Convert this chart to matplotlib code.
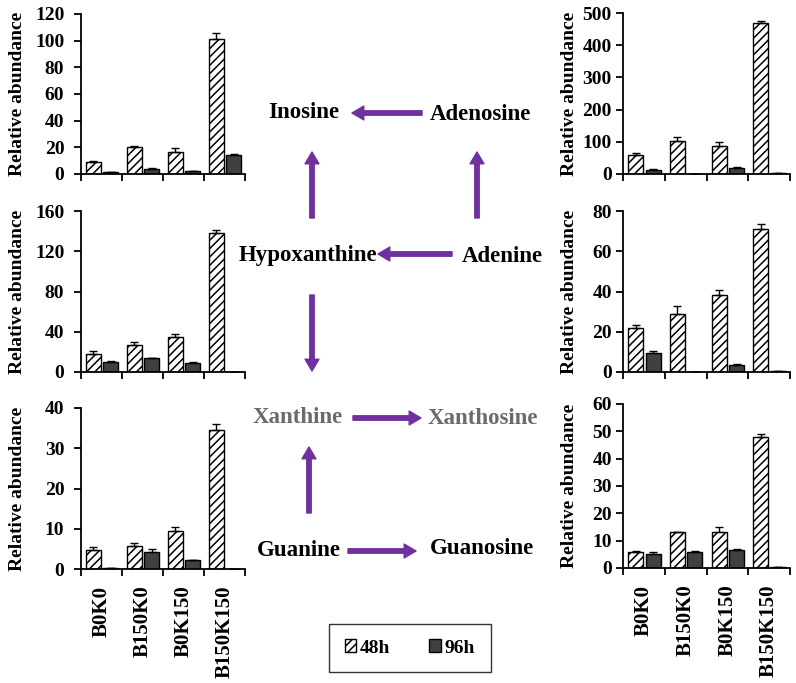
import matplotlib
matplotlib.use("Agg")
import matplotlib.pyplot as plt
from matplotlib.patches import FancyArrowPatch, Patch
import numpy as np

plt.rcParams['font.family'] = ['Liberation Serif', 'DejaVu Serif']
plt.rcParams['font.weight'] = 'bold'
plt.rcParams['axes.labelweight'] = 'bold'
plt.rcParams['hatch.linewidth'] = 1.1

groups = ['B0K0', 'B150K0', 'B0K150', 'B150K150']
series = ['48h', '96h']

# Inosine (top left)
ino_48 = [9, 20, 16.5, 101]
ino_48_err = [1, 1, 3, 4.5]
ino_96 = [1.5, 3.8, 2.2, 14.5]
ino_96_err = [0.3, 0.8, 0.3, 0.8]

# Adenosine (top right)
ado_48 = [58, 104, 88, 468]
ado_48_err = [8, 12, 12, 6]
ado_96 = [12, 0, 20, 2]
ado_96_err = [3, 0, 3, 0.5]

# Hypoxanthine (middle left)
hyp_48 = [18, 27, 35, 138]
hyp_48_err = [3, 3, 3, 3]
hyp_96 = [10, 13.5, 9, 0]
hyp_96_err = [0.5, 0.5, 1, 0]

# Adenine (middle right)
ade_48 = [22, 29, 38.5, 71]
ade_48_err = [1.5, 4, 2, 2.5]
ade_96 = [9.5, 0, 3.5, 0.3]
ade_96_err = [1, 0, 0.5, 0]

# Xanthine (bottom left)
xan_48 = [4.7, 5.7, 9.5, 34.5]
xan_48_err = [0.8, 0.7, 1.0, 1.5]
xan_96 = [0.3, 4.2, 2.2, 0]
xan_96_err = [0, 0.7, 0, 0]

# Guanine (bottom right)
gua_48 = [5.8, 13.2, 13.3, 48]
gua_48_err = [0.3, 0, 1.8, 1.2]
gua_96 = [5.3, 5.8, 6.6, 0.3]
gua_96_err = [0.7, 0.3, 0.5, 0]

W, H = 796, 683
fig = plt.figure(figsize=(W / 100, H / 100), dpi=100)


def rect(x0, x1, ytop, ybot):
    return [x0 / W, 1 - ybot / H, (x1 - x0) / W, (ybot - ytop) / H]


def panel(r, v48, e48, v96, e96, ymax, step, labels, pad, lab_x):
    ax = fig.add_axes(r)
    x = np.arange(len(groups))
    ax.bar(x - 0.2, v48, 0.36, color='white', edgecolor='black', hatch='////', lw=1)
    ax.bar(x + 0.22, v96, 0.36, color='#404040', edgecolor='black', lw=1)
    ek = dict(fmt='none', ecolor='black', elinewidth=1, capsize=3, capthick=1)
    ax.errorbar(x - 0.2, v48, yerr=[np.zeros(4), e48], **ek)
    ax.errorbar(x + 0.22, v96, yerr=[np.zeros(4), e96], **ek)
    ax.set_xlim(-0.5, 3.5)
    ax.set_ylim(0, ymax)
    ax.set_yticks(np.arange(0, ymax + 1, step))
    ax.set_xticks([-0.5, 0.5, 1.5, 2.5, 3.5])
    ax.set_xticklabels([])
    ax.set_xticks(x, minor=True)
    if labels:
        ax.set_xticklabels(groups, minor=True, rotation=90, fontsize=15)
    ax.tick_params(axis='x', which='minor', length=0, pad=12)
    ax.tick_params(axis='x', which='major', direction='out', length=5, width=1.3)
    ax.tick_params(axis='y', direction='out', length=5, width=1.3, labelsize=14, pad=pad)
    for s in ['top', 'right']:
        ax.spines[s].set_visible(False)
    for s in ['left', 'bottom']:
        ax.spines[s].set_linewidth(1.3)
    ax.set_ylabel('Relative abundance', fontsize=14, fontweight='bold')
    ax.yaxis.set_label_coords(lab_x, 0.5)
    return ax


panel(rect(81, 245, 14, 174), ino_48, ino_48_err, ino_96, ino_96_err, 120, 20, False, 7, -0.335)
panel(rect(81, 245, 211, 372), hyp_48, hyp_48_err, hyp_96, hyp_96_err, 160, 40, False, 7, -0.335)
panel(rect(81, 245, 408, 569), xan_48, xan_48_err, xan_96, xan_96_err, 40, 10, True, 7, -0.335)
panel(rect(623, 790, 13, 174), ado_48, ado_48_err, ado_96, ado_96_err, 500, 100, False, 3, -0.27)
panel(rect(623, 790, 211, 372), ade_48, ade_48_err, ade_96, ade_96_err, 80, 20, False, 3, -0.27)
panel(rect(623, 790, 404, 568), gua_48, gua_48_err, gua_96, gua_96_err, 60, 10, True, 3, -0.27)

# pathway diagram in the middle
purple = '#7030A0'


def fx(px, py):
    return (px / W, 1 - py / H)


def label(px, py, s, color='black'):
    fig.text(px / W, 1 - py / H, s, ha='center', va='center', fontsize=16.5,
             fontweight='bold', color=color)


def arrow(p0, p1):
    a = FancyArrowPatch(fx(*p0), fx(*p1), transform=fig.transFigure,
                        arrowstyle='simple,head_width=1.0,head_length=0.85,tail_width=0.32',
                        mutation_scale=10, color=purple, shrinkA=0, shrinkB=0)
    fig.add_artist(a)


label(304, 112, 'Inosine')
label(480, 115, 'Adenosine')
label(308, 255, 'Hypoxanthine')
label(502, 257, 'Adenine')
label(298, 417, 'Xanthine', color='#6b6b6b')
label(483, 418, 'Xanthosine', color='#6b6b6b')
label(299, 550, 'Guanine')
label(482, 549, 'Guanosine')

arrow((422, 113), (352, 113))
arrow((312, 218), (312, 152))
arrow((477, 218), (477, 152))
arrow((452, 254), (378, 254))
arrow((312, 295), (312, 371))
arrow((353, 418), (421, 418))
arrow((309, 513), (309, 447))
arrow((348, 551), (416, 551))

handles = [Patch(facecolor='white', edgecolor='black', hatch='////', label=series[0]),
           Patch(facecolor='#404040', edgecolor='black', label=series[1])]
leg = fig.legend(handles=handles, ncol=2, loc='center', bbox_to_anchor=(410 / W, 1 - 648 / H),
                 fontsize=14, frameon=True, fancybox=False, edgecolor='black',
                 handlelength=0.6, handleheight=0.6, handletextpad=0.2,
                 columnspacing=2.0, borderpad=0.8)
leg.get_frame().set_linewidth(1)

fig.savefig('out.png', dpi=100, facecolor='white')
